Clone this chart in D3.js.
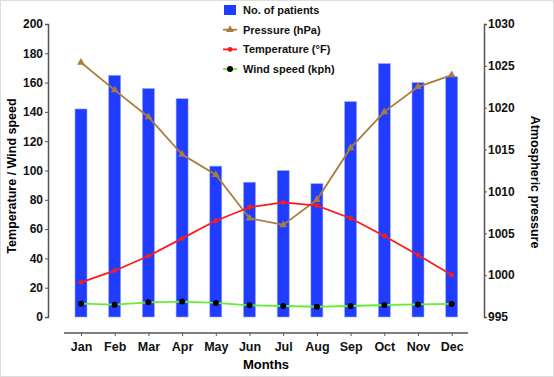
<!DOCTYPE html>
<html>
<head>
<meta charset="utf-8">
<script src="https://cdn.jsdelivr.net/npm/d3@7"></script>
<style>
  body { margin: 0; background: #fff; }
  svg { display: block; font-family: "Liberation Sans", Arial, sans-serif; }
  .tick text { font-weight: bold; font-size: 12px; fill: #111; }
</style>
</head>
<body>
<svg id="chart" width="554" height="377"></svg>
<script>
var months = ['Jan', 'Feb', 'Mar', 'Apr', 'May', 'Jun', 'Jul', 'Aug', 'Sep', 'Oct', 'Nov', 'Dec'];
var patients = [142, 165, 156, 149, 103, 92, 100, 91, 147, 173, 160, 164];
var pressure = [1025.4, 1022.1, 1018.9, 1014.4, 1012.0, 1006.8, 1006.0, 1009.0, 1015.2, 1019.5, 1022.5, 1023.9];
var temperature = [23.7, 31.6, 41.6, 53.7, 65.7, 74.9, 78.3, 76.0, 67.4, 55.3, 42.3, 28.7];
var windSpeed = [9.1, 8.4, 10.0, 10.5, 9.6, 8.0, 7.5, 7.0, 7.5, 8.2, 8.6, 8.9];
var leftTicks = [0, 20, 40, 60, 80, 100, 120, 140, 160, 180, 200];
var rightTicks = [995, 1000, 1005, 1010, 1015, 1020, 1025, 1030];

var svg = d3.select('#chart');

// frame
svg.append('rect')
	.attr('x', 0.5).attr('y', 0.5)
	.attr('width', 553).attr('height', 376)
	.attr('fill', 'none').attr('stroke', '#ddd');

var x = d3.scalePoint().domain(months).range([81, 451.7]);
var yLeft = d3.scaleLinear().domain([0, 200]).range([317, 24]);
var yRight = d3.scaleLinear().domain([995, 1030]).range([317, 24]);

/**
 * Axes
 */
var axisColor = '#555';

var gl = svg.append('g').attr('transform', 'translate(48,0)')
	.call(d3.axisLeft(yLeft).tickValues(leftTicks).tickSize(3).tickPadding(2));
var gr = svg.append('g').attr('transform', 'translate(484,0)')
	.call(d3.axisRight(yRight).tickValues(rightTicks).tickFormat(d3.format('d')).tickSize(3).tickPadding(1));

[gl, gr].forEach(function(g) {
	g.select('.domain').attr('stroke', axisColor).attr('stroke-width', 1.5);
	g.selectAll('.tick line').attr('stroke', axisColor);
});

var gx = svg.append('g').attr('transform', 'translate(0,333)')
	.call(d3.axisBottom(x).tickSize(3).tickPadding(6));
gx.select('.domain').remove();
gx.insert('line', ':first-child')
	.attr('x1', 64).attr('x2', 468)
	.attr('stroke', axisColor).attr('stroke-width', 1.5);
gx.selectAll('.tick line').attr('stroke', axisColor);
gx.selectAll('.tick text').style('font-size', '12.5px');

// axis titles
svg.append('text')
	.attr('transform', 'translate(16,176) rotate(-90)')
	.attr('text-anchor', 'middle')
	.style('font-weight', 'bold').style('font-size', '12.5px')
	.text('Temperature / Wind speed');

svg.append('text')
	.attr('transform', 'translate(531,182) rotate(90)')
	.attr('text-anchor', 'middle')
	.style('font-weight', 'bold').style('font-size', '12.5px')
	.text('Atmospheric pressure');

svg.append('text')
	.attr('x', 266).attr('y', 369)
	.attr('text-anchor', 'middle')
	.style('font-weight', 'bold').style('font-size', '13px')
	.text('Months');

/**
 * Bars
 */
var barW = 12;
svg.append('g').selectAll('rect').data(patients).enter().append('rect')
	.attr('x', function(d, i) { return x(months[i]) - barW / 2; })
	.attr('y', function(d) { return yLeft(d); })
	.attr('width', barW)
	.attr('height', function(d) { return yLeft(0) - yLeft(d); })
	.attr('fill', '#1f3cff')
	.attr('stroke', '#9aa8ff').attr('stroke-width', 0.6);

/**
 * Lines
 */
var drawLine = function(values, yScale, color) {
	var line = d3.line()
		.x(function(d, i) { return x(months[i]); })
		.y(function(d) { return yScale(d); });
	svg.append('path').datum(values)
		.attr('d', line)
		.attr('fill', 'none')
		.attr('stroke', color).attr('stroke-width', 1.8);
};

drawLine(pressure, yRight, '#a87d3e');
drawLine(temperature, yLeft, '#ff1a1a');
drawLine(windSpeed, yLeft, '#66ee33');

var tri = d3.symbol().type(d3.symbolTriangle).size(26);
svg.append('g').selectAll('path').data(pressure).enter().append('path')
	.attr('d', tri)
	.attr('transform', function(d, i) { return 'translate(' + x(months[i]) + ',' + yRight(d) + ')'; })
	.attr('fill', '#a87d3e');

svg.append('g').selectAll('circle').data(temperature).enter().append('circle')
	.attr('cx', function(d, i) { return x(months[i]); })
	.attr('cy', function(d) { return yLeft(d); })
	.attr('r', 2.4)
	.attr('fill', '#ff1a1a');

svg.append('g').selectAll('circle').data(windSpeed).enter().append('circle')
	.attr('cx', function(d, i) { return x(months[i]); })
	.attr('cy', function(d) { return yLeft(d); })
	.attr('r', 3)
	.attr('fill', '#000');

/**
 * Legend
 */
var legendItems = [
	{label: 'No. of patients', color: '#1f3cff', kind: 'box'},
	{label: 'Pressure (hPa)', color: '#a87d3e', kind: 'tri'},
	{label: 'Temperature (\u00B0F)', color: '#ff1a1a', kind: 'dot'},
	{label: 'Wind speed (kph)', color: '#66ee33', kind: 'wind'}
];

var lg = svg.append('g');
legendItems.forEach(function(item, i) {
	var cy = 10 + i * 19.7;
	var row = lg.append('g').attr('transform', 'translate(0,' + cy + ')');
	if (item.kind === 'box') {
		row.append('rect').attr('x', 224).attr('y', -5).attr('width', 12).attr('height', 10)
			.attr('fill', item.color);
	} else {
		row.append('line').attr('x1', 223).attr('x2', 237)
			.attr('stroke', item.color).attr('stroke-width', 1.8);
		if (item.kind === 'tri') {
			row.append('path').attr('d', tri).attr('transform', 'translate(230,0)').attr('fill', item.color);
		} else if (item.kind === 'dot') {
			row.append('circle').attr('cx', 230).attr('r', 2.4).attr('fill', item.color);
		} else {
			row.append('circle').attr('cx', 230).attr('r', 3).attr('fill', '#000');
		}
	}
	row.append('text').attr('x', 243).attr('y', 4)
		.style('font-weight', 'bold').style('font-size', '11px')
		.attr('fill', '#111')
		.text(item.label);
});
</script>
</body>
</html>
